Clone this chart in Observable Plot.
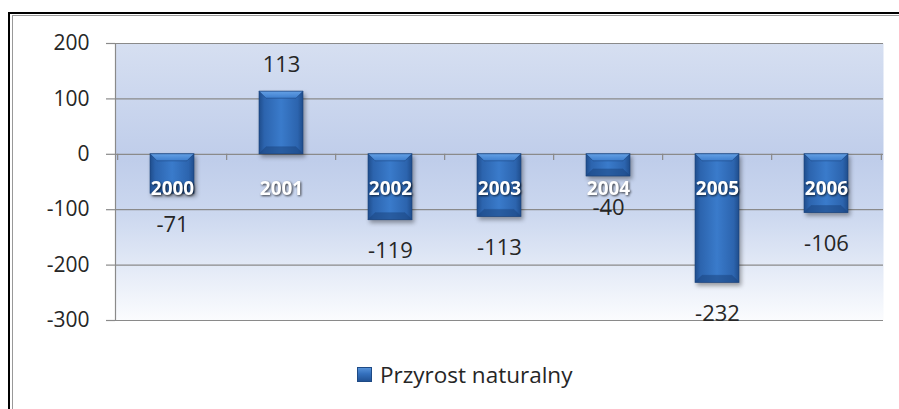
<!DOCTYPE html>
<html>
<head>
<meta charset="utf-8">
<script src="https://cdn.jsdelivr.net/npm/d3@7"></script>
<script src="https://cdn.jsdelivr.net/npm/@observablehq/plot@0.6"></script>
<style>
  html, body { margin: 0; padding: 0; background: #fff; }
  body { width: 899px; height: 409px; position: relative; overflow: hidden; font-family: "Open Sans", sans-serif; }
  #frame1 { position: absolute; left: 8px; top: 12px; right: -10px; bottom: -10px; border-left: 2px solid #000; border-top: 2px solid #000; }
  #frame2 { position: absolute; left: 12px; top: 15px; right: -10px; bottom: -10px; border-left: 1px solid #999; border-top: 1px solid #999; }
  #chart { position: absolute; left: 0; top: 0; }
  #legend { position: absolute; left: 357px; top: 359px; display: flex; align-items: center; font-size: 22.5px; color: #262626; }
  #legend .sw { width: 15px; height: 15px; margin-right: 8px; background: linear-gradient(180deg, #5b97dd 0%, #3470bd 45%, #1f4f90 100%); box-shadow: inset 0 0 0 1px #1e4a85; }
</style>
</head>
<body>
<div id="frame1"></div>
<div id="frame2"></div>
<div id="chart"></div>
<div id="legend"><span class="sw"></span><span>Przyrost naturalny</span></div>
<script>
const years = ["2000", "2001", "2002", "2003", "2004", "2005", "2006"];
const values = [-71, 113, -119, -113, -40, -232, -106];
const yTicks = [-300, -200, -100, 0, 100, 200];
const seriesName = "Przyrost naturalny";

const data = years.map((year, i) => ({year, value: values[i]}));

const W = 899, H = 409;
const mL = 115, mR = 16, mT = 43, mB = 89;
const halfStep = (W - mL - mR) / years.length / 2;
const gray = "#8a8a8a";

const chart = Plot.plot({
  width: W,
  height: H,
  marginLeft: mL,
  marginRight: mR,
  marginTop: mT,
  marginBottom: mB,
  style: {fontFamily: "'Open Sans', sans-serif", background: "transparent", overflow: "visible"},
  x: {domain: years, paddingInner: 0.6, paddingOuter: 0.3, axis: null},
  y: {domain: [-300, 200], axis: null},
  marks: [
    Plot.frame({fill: "url(#bgGrad)", stroke: null}),
    Plot.gridY(yTicks, {stroke: gray, strokeOpacity: 1, strokeWidth: 1.2}),
    Plot.frame({anchor: "left", stroke: gray, strokeWidth: 1.2}),
    Plot.axisY(yTicks, {label: null, tickSize: 9, tickPadding: 17, stroke: gray, strokeWidth: 1.2, fontSize: 21, fill: "#262626", tickFormat: d => String(d)}),
    Plot.ruleX(years, {x: d => d, dx: -halfStep, y1: () => 0, y2: () => -11, stroke: gray, strokeWidth: 1.2}),
    Plot.ruleX(years.slice(-1), {x: d => d, dx: halfStep, y1: () => 0, y2: () => -11, stroke: gray, strokeWidth: 1.2}),
    Plot.barY(data, {x: "year", y: "value", fill: "url(#barGrad)", stroke: "#1a427a", strokeWidth: 0.6, className: "bars"}),
    Plot.text(data.filter(d => d.value < 0), {x: "year", y: "value", text: d => String(d.value), dy: 31, fontSize: 22, fill: "#262626"}),
    Plot.text(data.filter(d => d.value >= 0), {x: "year", y: "value", text: d => String(d.value), dy: -27, fontSize: 22, fill: "#262626"}),
    Plot.text(data, {x: "year", y: () => 0, text: "year", dy: 35, fontSize: 19, fontWeight: "bold", fill: "#ffffff", className: "yrs"})
  ]
});

const svg = d3.select(chart);
const defs = svg.insert("defs", ":first-child");
const bg = defs.append("linearGradient").attr("id", "bgGrad").attr("x1", 0).attr("y1", 0).attr("x2", 0).attr("y2", 1);
[[0, "#d6dff1"], [0.42, "#bfcdea"], [0.62, "#ccd8ef"], [1, "#fbfcfe"]].forEach(([o, c]) => bg.append("stop").attr("offset", o).attr("stop-color", c));
const bar = defs.append("linearGradient").attr("id", "barGrad").attr("x1", 0).attr("y1", 0).attr("x2", 1).attr("y2", 0);
[[0, "#1f4d8c"], [0.12, "#2c64ae"], [0.5, "#3a7bcb"], [0.88, "#2c64ae"], [1, "#1f4d8c"]].forEach(([o, c]) => bar.append("stop").attr("offset", o).attr("stop-color", c));
const topG = defs.append("linearGradient").attr("id", "topGrad").attr("x1", 0).attr("y1", 0).attr("x2", 0).attr("y2", 1);
[[0, "#6aa6ea"], [1, "#3f80d0"]].forEach(([o, c]) => topG.append("stop").attr("offset", o).attr("stop-color", c));

// bevel faces derived from each drawn bar
svg.selectAll("g.bars").each(function() {
  const g = d3.select(this);
  const bev = 7;
  g.selectAll("rect").each(function() {
    const r = d3.select(this);
    const x = +r.attr("x"), y = +r.attr("y"), w = +r.attr("width"), h = +r.attr("height");
    const b = Math.min(bev, h / 2);
    g.append("polygon")
      .attr("points", `${x},${y} ${x + w},${y} ${x + w - b},${y + b} ${x + b},${y + b}`)
      .attr("fill", "url(#topGrad)").attr("opacity", 0.9);
    g.append("polygon")
      .attr("points", `${x},${y + h} ${x + w},${y + h} ${x + w - b},${y + h - b} ${x + b},${y + h - b}`)
      .attr("fill", "#1b4580").attr("opacity", 0.55);
  });
});

svg.selectAll("g.bars").style("filter", "drop-shadow(2px 3px 2px rgba(0,0,0,0.35))");
svg.selectAll("g.yrs").style("filter", "drop-shadow(1px 1px 1px rgba(0,0,0,0.7))");

document.getElementById("chart").appendChild(chart);
</script>
</body>
</html>
